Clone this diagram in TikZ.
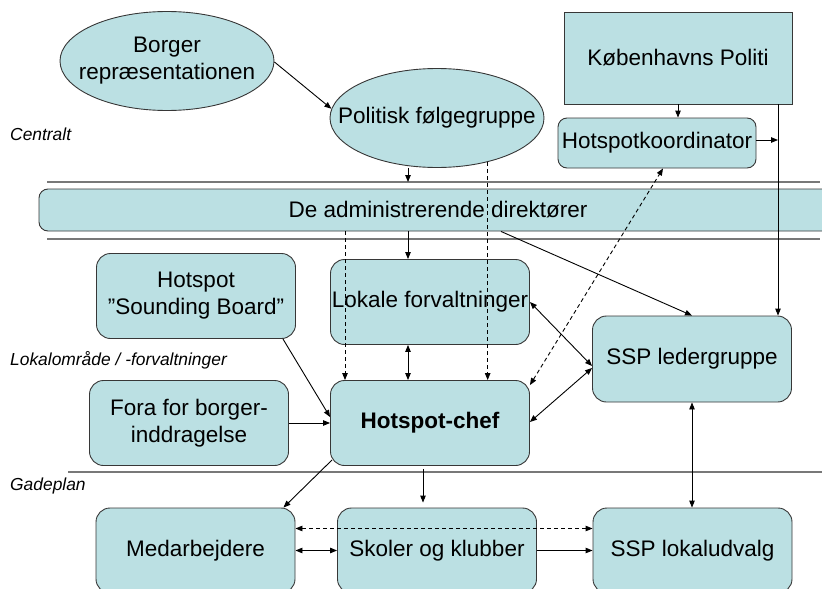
\documentclass[tikz,border=0pt]{standalone}
\usepackage{fontspec}
\setmainfont{Liberation Sans}
\usetikzlibrary{shapes.geometric,arrows.meta,calc}
\definecolor{boxfill}{RGB}{187,224,227}
\definecolor{boxline}{RGB}{55,55,55}
\definecolor{sepline}{RGB}{120,120,120}
\newcommand{\zerow}[1]{\hbox to 0pt{\hss\begin{tabular}{@{}c@{}}#1\end{tabular}\hss}}
\tikzset{
  mainfont/.style={font=\fontsize{22.5}{27}\selectfont},
  lbl/.style={font=\fontsize{17.4}{20}\selectfont\itshape, anchor=west, inner sep=0pt},
  ell/.style={ellipse, draw=boxline, fill=boxfill, line width=0.9pt, minimum width=214pt, minimum height=99pt, inner sep=0pt, align=center, mainfont},
  rbox/.style={rectangle, rounded corners=14pt, draw=boxline, fill=boxfill, line width=0.9pt, minimum width=199pt, minimum height=85pt, inner sep=0pt, align=center, mainfont},
  sbox/.style={rectangle, draw=boxline, fill=boxfill, line width=0.9pt, inner sep=0pt, align=center, mainfont},
  arr/.style={line width=0.9pt, -{Triangle[length=7pt,width=5.5pt]}},
  darr/.style={line width=0.9pt, {Triangle[length=7pt,width=5.5pt]}-{Triangle[length=7pt,width=5.5pt]}},
  dsh/.style={dash pattern=on 4pt off 3pt},
  sep/.style={draw=sepline, line width=1.5pt},
}
\begin{document}
\begin{tikzpicture}[x=1pt,y=-1pt]
\useasboundingbox (0,0) rectangle (822,589);
\clip (0,0) rectangle (822,589);

% separators
\coordinate (s1l) at (47,182); \coordinate (s1r) at (820,182);
\coordinate (s2l) at (47,239); \coordinate (s2r) at (820,239);
\coordinate (s3l) at (68,472); \coordinate (s3r) at (822,472);
\draw[sep] (s1l) -- (s1r);
\draw[sep] (s2l) -- (s2r);
\draw[sep] (s3l) -- (s3r);

% labels
\node[lbl] (lc) at (10,134) {Centralt};
\node[lbl] (ll) at (10,360) {Lokalområde / -forvaltninger};
\node[lbl] (lg) at (10,486) {Gadeplan};

% nodes
\node[ell] (bor) at (167,61) {\zerow{Borger\\repræsentationen}};
\node[ell] (pol) at (437,118) {\zerow{Politisk følgegruppe}};
\node[sbox, minimum width=228pt, minimum height=92pt] (kp) at (678,58) {Københavns Politi};
\node[rbox, rounded corners=9pt, minimum width=198pt, minimum height=50pt] (hk) at (657,143) {Hotspotkoordinator};
\node[rbox, rounded corners=9pt, minimum width=798pt, minimum height=42pt] (adm) at (438,210) {De administrerende direktører};
\node[rbox] (sb) at (196,296) {Hotspot\\”Sounding Board”};
\node[rbox] (fora) at (189,423) {Fora for borger-\\inddragelse};
\node[rbox] (lok) at (430,302) {Lokale forvaltninger};
\node[rbox] (hc) at (430,423) {\bfseries Hotspot-chef};
\node[rbox, minimum height=86pt] (sspl) at (692,359) {SSP ledergruppe};
\node[rbox] (med) at (195.5,550.5) {Medarbejdere};
\node[rbox] (sko) at (437,550.5) {Skoler og klubber};
\node[rbox] (sspk) at (692.5,550.5) {SSP lokaludvalg};

% helper columns
\coordinate (xa) at (408,0);
\coordinate (xd) at (345,0);
\coordinate (xv) at (778,0);
\coordinate (xs) at (423,0);

% connectors
\draw[arr] ($(bor.east)+(0,1)$) -- (pol.175);
\draw[arr] (xa |- pol.south) -- (xa |- s1l);
\draw[arr] (xa |- adm.south) -- (xa |- lok.north);
\draw[darr] (xa |- lok.south) -- (xa |- hc.north);
\draw[arr, dsh] (xd |- adm.south) -- (xd |- hc.north);
\draw[arr, dsh] (pol.-41) -- (pol.-41 |- hc.north);
\draw[darr, dsh] ($(hc.north east)+(0,5)$) -- ($(hk.south)+(6,0)$);
\draw[arr] ($(adm.south)+(63,0)$) -- (sspl.north);
\draw[darr] (lok.east) -- ($(sspl.west)+(0,7)$);
\draw[darr] ($(hc.east)+(0,-1)$) -- ($(sspl.west)+(0,9)$);
\draw[arr] (kp.south) -- (kp.south |- hk.north);
\draw[arr] (xv |- kp.south) -- (xv |- sspl.north);
\draw[arr] ($(hk.east)+(0,-3)$) -- ($(hk.east -| xv)+(0,-3)$);
\draw[darr] (sspl.south) -- (sspl.south |- sspk.north);
\draw[arr] ($(sb.south east)+(-13,0)$) -- ($(hc.west)+(0,-6)$);
\draw[arr] (fora.east) -- (fora.east -| hc.west);
\draw[arr] ($(hc.south west)+(2,-6)$) -- ($(med.north east)+(-12,0)$);
\draw[arr, shorten <=3pt, shorten >=5pt] (xs |- hc.south) -- (xs |- sko.north);
\draw[darr, dsh] ($(med.east)+(0,-22)$) -- ($(sspk.west)+(0,-22)$);
\draw[darr] (med.east) -- (sko.west);
\draw[arr] (sko.east) -- (sspk.west);
\end{tikzpicture}
\end{document}
